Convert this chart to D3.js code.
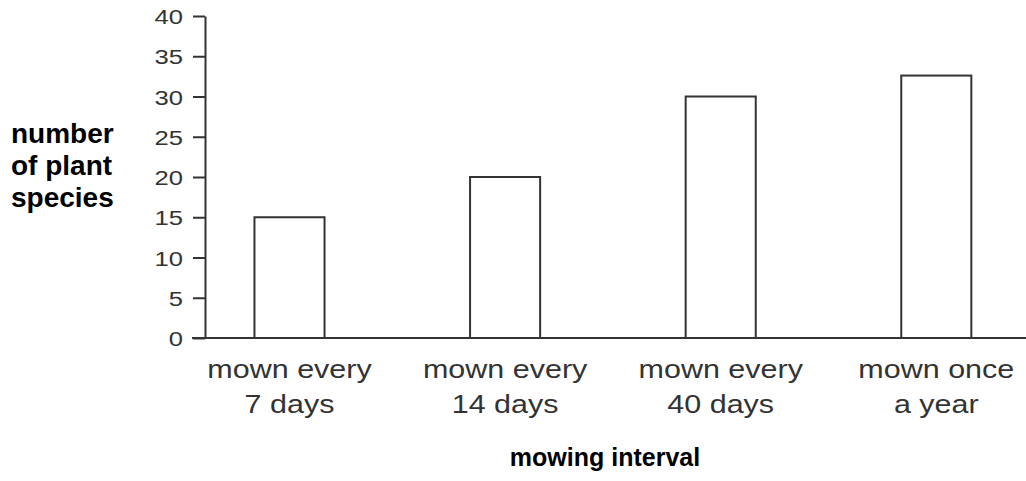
<!DOCTYPE html>
<html>
<head>
<meta charset="utf-8">
<script src="https://cdn.jsdelivr.net/npm/d3@7"></script>
<style>
  body { margin: 0; background: #fff; }
  svg { display: block; font-family: "Liberation Sans", Arial, sans-serif; }
</style>
</head>
<body>
<svg width="1026" height="481"></svg>
<script>
// data
var categories = [["mown every", "7 days"],
                  ["mown every", "14 days"],
                  ["mown every", "40 days"],
                  ["mown once", "a year"]];
var species = [15, 20, 30, 32.6];
var yTicks = [0, 5, 10, 15, 20, 25, 30, 35, 40];
var yTitle = ["number", "of plant", "species"];
var xTitle = "mowing interval";

// display settings
var ink = "#333";
var stretch = 1.22;   // the original image is slightly widened

var svg = d3.select("svg");

var y = d3.scaleLinear().domain([0, 40]).range([338, 16]);
var x = d3.scaleBand()
    .domain(d3.range(categories.length))
    .range([181.7, 1044.1])
    .paddingInner(0.675)
    .paddingOuter(0.3375);

// y axis
var yAxis = svg.append("g")
    .attr("transform", "translate(205,0)")
    .call(d3.axisLeft(y).tickValues(yTicks).tickSize(12).tickSizeOuter(0));
yAxis.select(".domain").attr("stroke", ink).attr("stroke-width", 2);
yAxis.selectAll(".tick line").attr("stroke", ink).attr("stroke-width", 2);
yAxis.selectAll(".tick text")
    .attr("font-size", 21)
    .attr("fill", ink)
    .attr("x", -22 / stretch)
    .attr("dy", "0.36em")
    .attr("transform", "scale(" + stretch + ",1)");

// baseline
svg.append("line")
    .attr("x1", 192).attr("x2", 1026)
    .attr("y1", y(0)).attr("y2", y(0))
    .attr("stroke", ink).attr("stroke-width", 2);

// bars
svg.append("g").selectAll("rect")
    .data(species)
    .enter()
    .append("rect")
    .attr("x", function(d, i) { return x(i); })
    .attr("y", function(d) { return y(d); })
    .attr("width", x.bandwidth())
    .attr("height", function(d) { return y(0) - y(d); })
    .attr("fill", "#fff")
    .attr("stroke", ink)
    .attr("stroke-width", 2);

// category labels
var cat = svg.append("g").selectAll("text")
    .data(categories)
    .enter()
    .append("text")
    .attr("transform", function(d, i) {
        return "translate(" + (x(i) + x.bandwidth() / 2) + ",378) scale(" + stretch + ",1)";
    })
    .attr("text-anchor", "middle")
    .attr("font-size", 25)
    .attr("fill", ink);
cat.selectAll("tspan")
    .data(function(d) { return d; })
    .enter()
    .append("tspan")
    .attr("x", 0)
    .attr("y", function(d, j) { return j * 35; })
    .text(function(d) { return d; });

// axis titles
svg.append("text")
    .selectAll("tspan")
    .data(yTitle)
    .enter()
    .append("tspan")
    .attr("x", 11)
    .attr("y", function(d, j) { return 143 + j * 32; })
    .attr("font-size", 28)
    .attr("font-weight", "bold")
    .text(function(d) { return d; });

svg.append("text")
    .attr("x", 605)
    .attr("y", 466)
    .attr("text-anchor", "middle")
    .attr("font-size", 25)
    .attr("font-weight", "bold")
    .text(xTitle);
</script>
</body>
</html>
